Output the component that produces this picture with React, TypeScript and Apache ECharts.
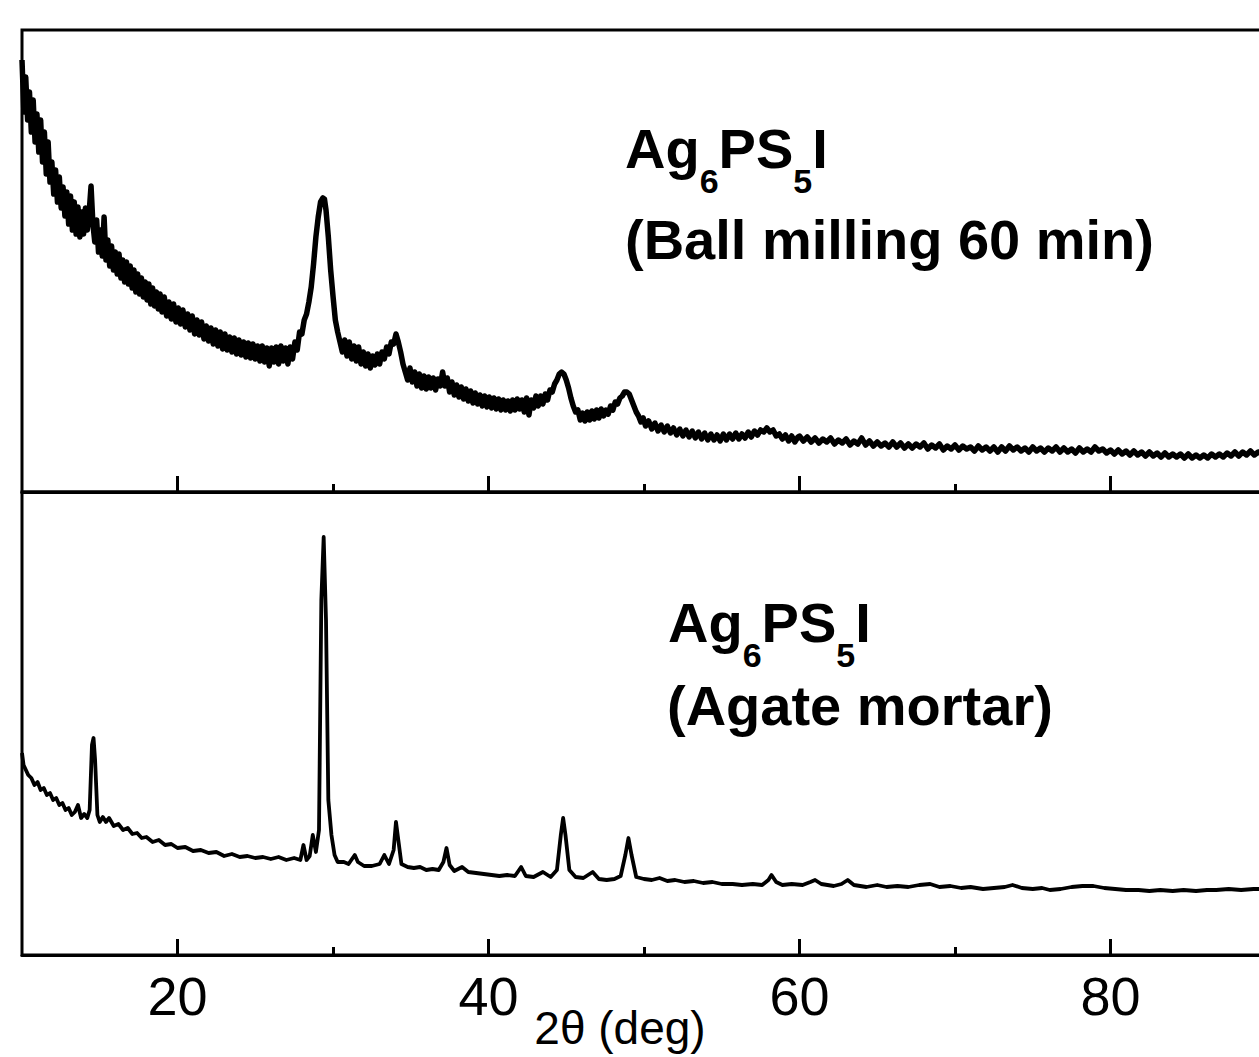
import React, { useEffect, useRef } from "react";
import * as echarts from "echarts";

// 2θ (deg), intensity (a.u.) — Ag6PS5I, ball milling 60 min
const ballMilling60: [number, number][] = [
  [10.00, 432], [10.12, 380], [10.24, 415], [10.36, 372], [10.48, 400], [10.60, 360], [10.72, 392], [10.84, 350],
  [10.96, 378], [11.08, 340], [11.20, 372], [11.32, 330], [11.44, 360], [11.56, 318], [11.68, 350], [11.80, 310],
  [11.92, 330], [12.04, 298], [12.16, 322], [12.28, 290], [12.40, 315], [12.52, 284], [12.64, 305], [12.76, 276],
  [12.88, 300], [13.00, 268], [13.12, 296], [13.24, 262], [13.36, 290], [13.48, 258], [13.60, 285], [13.72, 255],
  [13.84, 280], [13.96, 258], [14.08, 284], [14.20, 262], [14.32, 280], [14.44, 306], [14.56, 268], [14.68, 250],
  [14.80, 272], [14.92, 240], [15.04, 262], [15.16, 236], [15.28, 275], [15.40, 232], [15.52, 252], [15.64, 226],
  [15.76, 246], [15.88, 222], [16.00, 240], [16.12, 218], [16.24, 238], [16.36, 214], [16.48, 232], [16.60, 210],
  [16.72, 230], [16.84, 208], [16.96, 226], [17.08, 204], [17.20, 222], [17.32, 200], [17.44, 218], [17.56, 198],
  [17.68, 214], [17.80, 195], [17.92, 210], [18.04, 192], [18.16, 208], [18.28, 188], [18.40, 204], [18.52, 186],
  [18.64, 200], [18.76, 183], [18.88, 198], [19.00, 180], [19.15, 195], [19.30, 176], [19.45, 190], [19.60, 173],
  [19.75, 188], [19.90, 170], [20.05, 184], [20.20, 168], [20.35, 182], [20.50, 165], [20.65, 178], [20.80, 162],
  [20.95, 176], [21.10, 158], [21.25, 172], [21.40, 157], [21.55, 170], [21.70, 153], [21.85, 166], [22.00, 151],
  [22.15, 164], [22.30, 148], [22.45, 162], [22.60, 146], [22.75, 160], [22.90, 143], [23.05, 158], [23.20, 142],
  [23.35, 155], [23.50, 140], [23.65, 154], [23.80, 138], [23.95, 152], [24.10, 137], [24.25, 150], [24.40, 135],
  [24.55, 149], [24.70, 134], [24.85, 148], [25.00, 133], [25.15, 146], [25.30, 131], [25.45, 146], [25.60, 130],
  [25.75, 144], [25.90, 126], [26.05, 144], [26.20, 130], [26.35, 145], [26.50, 128], [26.65, 146], [26.80, 131],
  [26.95, 144], [27.10, 128], [27.25, 145], [27.40, 133], [27.55, 150], [27.70, 142], [27.85, 160], [28.00, 158],
  [28.15, 172], [28.30, 178], [28.45, 190], [28.60, 205], [28.75, 228], [28.90, 255], [29.05, 275], [29.20, 290],
  [29.35, 294], [29.45, 293], [29.55, 282], [29.70, 255], [29.85, 222], [30.00, 196], [30.15, 172], [30.30, 160],
  [30.45, 150], [30.60, 140], [30.75, 152], [30.90, 136], [31.05, 150], [31.20, 133], [31.35, 146], [31.50, 131],
  [31.65, 145], [31.80, 128], [31.95, 140], [32.10, 126], [32.25, 138], [32.40, 124], [32.55, 136], [32.70, 127],
  [32.85, 138], [33.00, 128], [33.15, 140], [33.30, 133], [33.45, 145], [33.60, 138], [33.75, 150], [33.90, 148],
  [34.05, 158], [34.20, 150], [34.35, 140], [34.50, 128], [34.65, 120], [34.80, 112], [34.95, 124], [35.10, 110],
  [35.25, 120], [35.40, 106], [35.55, 118], [35.70, 104], [35.85, 116], [36.00, 103], [36.15, 115], [36.30, 104],
  [36.45, 114], [36.60, 102], [36.75, 113], [36.90, 106], [37.05, 120], [37.20, 106], [37.35, 114], [37.50, 100],
  [37.65, 110], [37.80, 97], [37.95, 107], [38.10, 95], [38.25, 105], [38.40, 93], [38.55, 103], [38.70, 91],
  [38.85, 101], [39.00, 89], [39.15, 99], [39.30, 88], [39.45, 97], [39.60, 86], [39.75, 96], [39.90, 85],
  [40.05, 95], [40.20, 84], [40.35, 94], [40.50, 83], [40.65, 93], [40.80, 82], [40.95, 92], [41.10, 82],
  [41.25, 91], [41.40, 81], [41.55, 92], [41.70, 82], [41.85, 93], [42.00, 83], [42.15, 92], [42.30, 80],
  [42.45, 94], [42.60, 77], [42.75, 92], [42.90, 84], [43.05, 96], [43.20, 86], [43.35, 96], [43.50, 88],
  [43.65, 98], [43.80, 92], [43.95, 102], [44.10, 100], [44.25, 108], [44.40, 112], [44.55, 118], [44.70, 120],
  [44.85, 118], [45.00, 112], [45.15, 104], [45.30, 94], [45.45, 86], [45.60, 80], [45.75, 82], [45.90, 72],
  [46.05, 79], [46.20, 71], [46.35, 80], [46.50, 72], [46.65, 81], [46.80, 73], [46.95, 82], [47.10, 74],
  [47.25, 83], [47.40, 76], [47.55, 82], [47.70, 78], [47.85, 86], [48.00, 82], [48.15, 90], [48.30, 88],
  [48.45, 94], [48.60, 96], [48.75, 100], [48.90, 100], [49.05, 98], [49.20, 92], [49.35, 86], [49.50, 80],
  [49.65, 76], [49.80, 70], [49.95, 74], [50.10, 66], [50.30, 71], [50.50, 63], [50.70, 69], [50.90, 61],
  [51.10, 67], [51.30, 60], [51.50, 66], [51.70, 59], [51.90, 64], [52.10, 57], [52.30, 63], [52.50, 56],
  [52.70, 62], [52.90, 55], [53.10, 61], [53.30, 54], [53.50, 60], [53.70, 53], [53.90, 59], [54.10, 52],
  [54.30, 58], [54.50, 52], [54.70, 57], [54.90, 51], [55.10, 58], [55.30, 52], [55.50, 58], [55.70, 53],
  [55.90, 59], [56.10, 53], [56.30, 58], [56.50, 54], [56.70, 60], [56.90, 55], [57.10, 61], [57.30, 57],
  [57.50, 62], [57.70, 60], [57.90, 64], [58.10, 60], [58.30, 62], [58.50, 56], [58.70, 58], [58.90, 53],
  [59.10, 57], [59.30, 51], [59.50, 56], [59.70, 50], [59.90, 55],
  [60.00, 56], [60.25, 51], [60.50, 55], [60.75, 50], [61.00, 54], [61.25, 49], [61.50, 53], [61.75, 50],
  [62.00, 54], [62.25, 48], [62.50, 52], [62.75, 49], [63.00, 53], [63.25, 47], [63.50, 51], [63.75, 48],
  [64.00, 54], [64.25, 47], [64.50, 51], [64.75, 46], [65.00, 50], [65.25, 46], [65.50, 49], [65.75, 45],
  [66.00, 50], [66.25, 45], [66.50, 49], [66.75, 44], [67.00, 48], [67.25, 44], [67.50, 48], [67.75, 45],
  [68.00, 49], [68.25, 43], [68.50, 47], [68.75, 44], [69.00, 48], [69.25, 42], [69.50, 46], [69.75, 43],
  [70.00, 47], [70.25, 42], [70.50, 46], [70.75, 43], [71.00, 45], [71.25, 41], [71.50, 46], [71.75, 42],
  [72.00, 45], [72.25, 41], [72.50, 45], [72.75, 40], [73.00, 45], [73.25, 41], [73.50, 46], [73.75, 42],
  [74.00, 45], [74.25, 41], [74.50, 44], [74.75, 40], [75.00, 45], [75.25, 41], [75.50, 44], [75.75, 40],
  [76.00, 44], [76.25, 41], [76.50, 45], [76.75, 40], [77.00, 44], [77.25, 40], [77.50, 43], [77.75, 39],
  [78.00, 44], [78.25, 40], [78.50, 43], [78.75, 40], [79.00, 45], [79.25, 41], [79.50, 43], [79.75, 39],
  [80.00, 42], [80.25, 38], [80.50, 42], [80.75, 38], [81.00, 41], [81.25, 37], [81.50, 41], [81.75, 37],
  [82.00, 40], [82.25, 36], [82.50, 40], [82.75, 36], [83.00, 39], [83.25, 35], [83.50, 39], [83.75, 35],
  [84.00, 38], [84.25, 35], [84.50, 38], [84.75, 34], [85.00, 38], [85.25, 34], [85.50, 37], [85.75, 34],
  [86.00, 37], [86.25, 34], [86.50, 38], [86.75, 35], [87.00, 38], [87.25, 35], [87.50, 39], [87.75, 36],
  [88.00, 40], [88.25, 36], [88.50, 40], [88.75, 37], [89.00, 41], [89.25, 37], [89.50, 40], [89.75, 38],
  [90.00, 40],
];

// 2θ (deg), intensity (a.u.) — Ag6PS5I, agate mortar
const agateMortar: [number, number][] = [
  [10.0, 202], [10.1, 190], [10.25, 185], [10.4, 180], [10.6, 177], [10.8, 170], [11.0, 173], [11.2, 165],
  [11.4, 167], [11.6, 160], [11.8, 162], [12.0, 155], [12.2, 157], [12.4, 150], [12.6, 152], [12.8, 145],
  [13.0, 147], [13.2, 140], [13.4, 143], [13.6, 150], [13.8, 137], [14.0, 141], [14.2, 137], [14.35, 145],
  [14.5, 210], [14.6, 217], [14.7, 195], [14.85, 140], [15.0, 133], [15.2, 138], [15.4, 133], [15.6, 137],
  [15.9, 129], [16.2, 131], [16.5, 125], [16.8, 127], [17.1, 121], [17.4, 122], [17.7, 117], [18.0, 118],
  [18.4, 113], [18.8, 115], [19.2, 110], [19.6, 111], [20.0, 107], [20.5, 108], [21.0, 104], [21.5, 105],
  [22.0, 102], [22.5, 103], [23.0, 99], [23.5, 101], [24.0, 98], [24.5, 99], [25.0, 97], [25.5, 98],
  [26.0, 96], [26.5, 98], [27.0, 95], [27.5, 97], [27.9, 95], [28.1, 110], [28.3, 95], [28.5, 99],
  [28.7, 120], [28.9, 103], [29.1, 125], [29.25, 355], [29.4, 418], [29.55, 335], [29.7, 155], [29.9, 120],
  [30.1, 100], [30.3, 93], [30.7, 93], [31.0, 91], [31.4, 100], [31.6, 93], [32.0, 89], [32.5, 89],
  [33.0, 91], [33.3, 100], [33.6, 91], [33.9, 105], [34.05, 133], [34.2, 115], [34.4, 91], [34.8, 88],
  [35.2, 87], [35.6, 88], [36.0, 85], [36.4, 86], [36.8, 85], [37.1, 93], [37.3, 107], [37.5, 90],
  [37.8, 84], [38.3, 88], [38.7, 83], [39.2, 82], [39.7, 81], [40.2, 80], [40.7, 79], [41.2, 80],
  [41.7, 79], [42.1, 88], [42.4, 79], [42.9, 78], [43.5, 83], [44.0, 78], [44.4, 85], [44.65, 120],
  [44.8, 137], [44.95, 120], [45.2, 85], [45.6, 78], [46.1, 77], [46.7, 83], [47.1, 76], [47.6, 75],
  [48.1, 76], [48.5, 79], [48.8, 100], [49.0, 117], [49.2, 100], [49.5, 78], [50.0, 76], [50.5, 75],
  [51.0, 77], [51.5, 74], [52.0, 75], [52.6, 73], [53.2, 74], [53.8, 72], [54.4, 73], [55.0, 71],
  [55.7, 71], [56.3, 70], [57.0, 71], [57.6, 70], [58.0, 75], [58.2, 80], [58.5, 73], [58.9, 70],
  [59.5, 71], [60.2, 70], [60.7, 73], [61.0, 75], [61.4, 71], [62.2, 69], [62.7, 71], [63.1, 75],
  [63.5, 70], [64.3, 68], [65.0, 70], [65.6, 68], [66.3, 69], [67.0, 68], [67.7, 70], [68.4, 71],
  [69.0, 68], [69.7, 69], [70.4, 67], [71.0, 68], [71.8, 66], [72.5, 67], [73.2, 68], [73.7, 70],
  [74.3, 67], [75.0, 66], [75.6, 67], [76.1, 65], [76.8, 66], [77.5, 68], [78.2, 69], [78.9, 69],
  [79.6, 67], [80.3, 66], [81.0, 65], [81.8, 65], [82.5, 64], [83.2, 65], [84.0, 64], [84.7, 65],
  [85.5, 64], [86.2, 65], [86.8, 65], [87.6, 66], [88.4, 65], [89.2, 66], [90.0, 66],
];

const majorTicks = [20, 40, 60, 80];
const minorTicks = [30, 50, 70];
const xTitle = "2θ (deg)";
const formulaParts: { text: string; sub: boolean }[] = [
  { text: "Ag", sub: false },
  { text: "6", sub: true },
  { text: "PS", sub: false },
  { text: "5", sub: true },
  { text: "I", sub: false },
];
const topNote = "(Ball milling 60 min)";
const bottomNote = "(Agate mortar)";

const FONT = '"Liberation Sans", Arial, Helvetica, sans-serif';
const MAIN_FS = 56;
const SUB_FS = 34;

function measure(text: string, size: number): number {
  const c = document.createElement("canvas");
  const ctx = c.getContext("2d");
  if (!ctx) return text.length * size * 0.6;
  ctx.font = `bold ${size}px ${FONT}`;
  return ctx.measureText(text).width;
}

// y given as baseline; converted to the em-box centre for verticalAlign middle
function textAt(text: string, x: number, baseline: number, size: number, align = "left") {
  return {
    type: "text",
    x,
    y: baseline - 0.3465 * size,
    silent: true,
    style: {
      text,
      fill: "#000",
      font: `bold ${size}px ${FONT}`,
      textAlign: align,
      textVerticalAlign: "middle",
      verticalAlign: "middle",
    },
  };
}

function formula(x0: number, baseline: number) {
  const els: any[] = [];
  let x = x0;
  for (const p of formulaParts) {
    const fs = p.sub ? SUB_FS : MAIN_FS;
    const b = p.sub ? baseline + 25 : baseline;
    els.push(textAt(p.text, x, b, fs));
    x += measure(p.text, fs);
  }
  return els;
}

export default function App() {
  const ref = useRef<HTMLDivElement>(null);

  useEffect(() => {
    if (!ref.current) return;
    const chart = echarts.init(ref.current, undefined, { renderer: "svg" });

    const gridTop = { left: 22, top: 30, width: 1244, height: 462 };
    const gridBottom = { left: 22, top: 492, width: 1244, height: 463 };

    const baseX = {
      type: "value",
      min: 10,
      max: 90,
      splitLine: { show: false },
      position: "bottom",
    };
    const tick = (vals: number[], len: number) => ({
      show: true,
      inside: true,
      length: len,
      customValues: vals,
      lineStyle: { color: "#000", width: 3 },
    });

    const option: any = {
      animation: false,
      backgroundColor: "#fff",
      grid: [
        { ...gridTop, show: true, borderColor: "#000", borderWidth: 3, backgroundColor: "transparent" },
        { ...gridBottom, show: true, borderColor: "#000", borderWidth: 3, backgroundColor: "transparent" },
        { ...gridTop, show: false },
        { ...gridBottom, show: false },
      ],
      xAxis: [
        {
          ...baseX,
          gridIndex: 0,
          axisLine: { show: true, onZero: false, lineStyle: { color: "#000", width: 3 } },
          axisTick: tick(majorTicks, 16),
          axisLabel: { show: false },
        },
        {
          ...baseX,
          gridIndex: 1,
          axisLine: { show: true, onZero: false, lineStyle: { color: "#000", width: 3 } },
          axisTick: tick(majorTicks, 16),
          axisLabel: {
            show: true,
            customValues: majorTicks,
            fontSize: 54,
            fontFamily: FONT,
            color: "#000",
            margin: 14,
          },
        },
        {
          ...baseX,
          gridIndex: 2,
          axisLine: { show: false },
          axisTick: tick(minorTicks, 8),
          axisLabel: { show: false },
        },
        {
          ...baseX,
          gridIndex: 3,
          axisLine: { show: false },
          axisTick: tick(minorTicks, 8),
          axisLabel: { show: false },
        },
      ],
      yAxis: [
        { type: "value", gridIndex: 0, min: 0, max: 462, show: false },
        { type: "value", gridIndex: 1, min: 0, max: 463, show: false },
        { type: "value", gridIndex: 2, min: 0, max: 462, show: false },
        { type: "value", gridIndex: 3, min: 0, max: 463, show: false },
      ],
      series: [
        {
          name: "Ball milling 60 min",
          type: "line",
          xAxisIndex: 0,
          yAxisIndex: 0,
          data: ballMilling60,
          showSymbol: false,
          silent: true,
          lineStyle: { color: "#000", width: 5.5, join: "round" },
        },
        {
          name: "Agate mortar",
          type: "line",
          xAxisIndex: 1,
          yAxisIndex: 1,
          data: agateMortar,
          showSymbol: false,
          silent: true,
          lineStyle: { color: "#000", width: 3.8, join: "round" },
        },
      ],
      graphic: [
        ...formula(625, 168),
        textAt(topNote, 625, 259, MAIN_FS),
        ...formula(668, 642),
        textAt(bottomNote, 667, 725, MAIN_FS),
        {
          type: "text",
          x: 620,
          y: 1028,
          silent: true,
          style: {
            text: xTitle,
            fill: "#000",
            font: `46px ${FONT}`,
            textAlign: "center",
            verticalAlign: "middle",
            textVerticalAlign: "middle",
          },
        },
      ],
    };

    chart.setOption(option);
    return () => chart.dispose();
  }, []);

  return (
    <div
      style={{ position: "absolute", left: 0, top: 0, width: 1259, height: 1057, overflow: "hidden", background: "#fff" }}
    >
      <div ref={ref} style={{ width: 1280, height: 1057 }} />
    </div>
  );
}
